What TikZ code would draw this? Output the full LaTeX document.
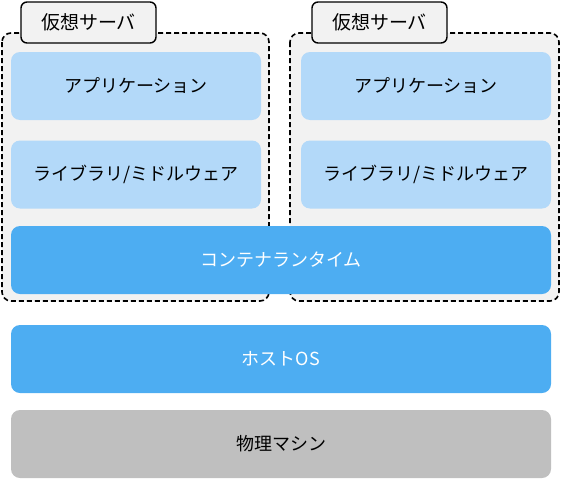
\documentclass[tikz,border=0pt]{standalone}
\usepackage{fontspec}
\setmainfont{Noto Sans CJK JP}
\usepackage{xcolor}
\definecolor{serverbg}{HTML}{F2F2F2}
\definecolor{paleblue}{HTML}{B3D9F9}
\definecolor{midblue}{HTML}{4DADF2}
\definecolor{machinegray}{HTML}{BFBFBF}

\begin{document}
\begin{tikzpicture}[x=1pt, y=-1pt,
    layer/.style={rounded corners=9pt, inner sep=0pt, font=\fontsize{18}{20}\selectfont},
    applayer/.style={layer, fill=paleblue, minimum width=250pt, minimum height=68pt},
    widelayer/.style={layer, minimum width=540pt, minimum height=68pt},
    server/.style={draw, fill=serverbg, dashed, dash pattern=on 5pt off 3pt, line width=1.6pt, rounded corners=9pt},
    servertab/.style={draw, fill=serverbg, line width=1.4pt, rounded corners=6pt, minimum width=135pt, minimum height=41pt, inner sep=0pt, font=\fontsize{19}{21}\selectfont}]
    \useasboundingbox (0,0) rectangle (561,479);
    % virtual servers
    \draw[server] (2,33) rectangle (269,301);
    \draw[server] (290,33) rectangle (559,301);
    \node[servertab] (tabL) at (88.5,22.5) {仮想サーバ};
    \node[servertab] (tabR) at (379.5,22.5) {仮想サーバ};
    % applications and libraries
    \node[applayer] (appL) at (136,86) {アプリケーション};
    \node[applayer] (appR) at (426,86) {アプリケーション};
    \node[applayer] (libL) at (136,174.5) {ライブラリ/ミドルウェア};
    \node[applayer] (libR) at (426,174.5) {ライブラリ/ミドルウェア};
    % shared layers
    \node[widelayer, fill=midblue, text=white] (runtime) at (281,260) {コンテナランタイム};
    \node[widelayer, fill=midblue, text=white] (hostos) at (281,359) {ホストOS};
    \node[widelayer, fill=machinegray] (machine) at (281,444) {物理マシン};
\end{tikzpicture}
\end{document}
